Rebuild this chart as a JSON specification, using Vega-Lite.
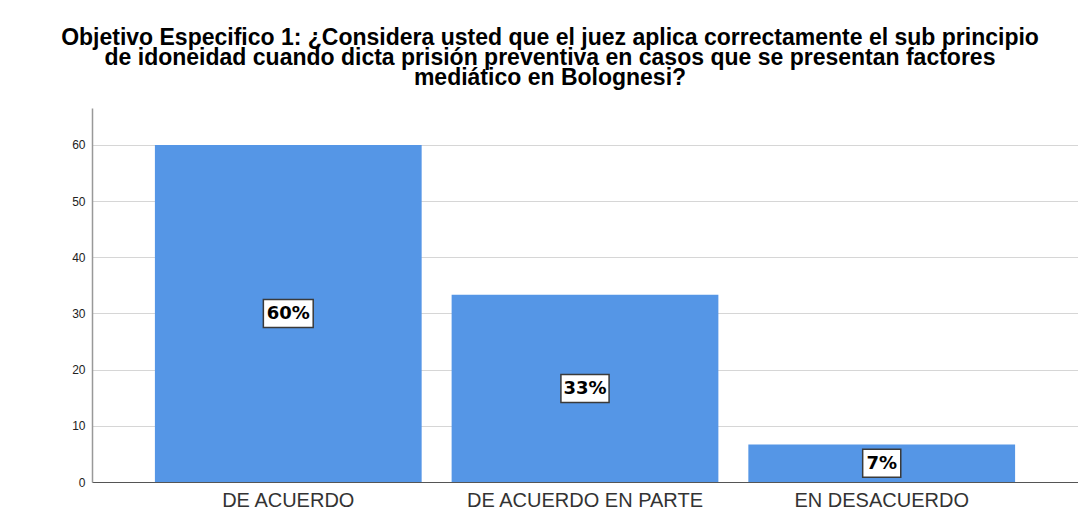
{
  "$schema": "https://vega.github.io/schema/vega-lite/v6.json",
  "autosize": {"type": "none"},
  "width": 986,
  "height": 374,
  "padding": {"left": 92, "top": 108, "right": 0, "bottom": 27},
  "background": "white",
  "title": {
    "text": ["Objetivo Especifico 1: ¿Considera usted que el juez aplica correctamente el sub principio", "de idoneidad cuando dicta prisión preventiva en casos que se presentan factores", "mediático en Bolognesi?"],
    "font": "Liberation Sans",
    "fontSize": 23,
    "fontWeight": "bold",
    "lineHeight": 20,
    "color": "black",
    "anchor": "middle",
    "dx": -35,
    "offset": 18,
    "limit": 1100
  },
  "config": {"view": {"stroke": null}},
  "data": {"values": [
    {"cat": "DE ACUERDO", "value": 60, "label": "60%"},
    {"cat": "DE ACUERDO EN PARTE", "value": 33.33, "label": "33%"},
    {"cat": "EN DESACUERDO", "value": 6.67, "label": "7%"}
  ]},
  "encoding": {
    "x": {
      "field": "cat", "type": "nominal", "sort": null,
      "scale": {"paddingInner": 0.101, "paddingOuter": 0.212},
      "axis": {
        "title": null, "labelAngle": 0, "ticks": false, "labelPadding": 8, "labelLimit": 400,
        "labelFont": "Liberation Sans", "labelFontSize": 20, "labelColor": "#333333",
        "domainColor": "#555555", "domainWidth": 1.2, "grid": false
      }
    }
  },
  "layer": [
    {
      "mark": {"type": "bar", "color": "#5596e6"},
      "encoding": {
        "y": {
          "field": "value", "type": "quantitative",
          "scale": {"domain": [0, 66.58], "nice": false, "zero": true},
          "axis": {
            "title": null, "values": [0, 10, 20, 30, 40, 50, 60], "ticks": false,
            "labelPadding": 7, "labelFont": "Liberation Sans", "labelFontSize": 12,
            "labelColor": "#222222", "domainColor": "#999999", "domainWidth": 1.5,
            "grid": true, "gridColor": "#d6d6d6", "gridWidth": 1.2
          }
        }
      }
    },
    {
      "encoding": {
        "y": {
          "field": "value", "type": "quantitative",
          "scale": {"domain": [0, 133.16], "nice": false, "zero": true},
          "axis": null
        }
      },
      "layer": [
        {
          "mark": {"type": "point", "filled": true, "fill": "white", "stroke": "#3a3a3a", "strokeWidth": 1.5, "opacity": 1, "size": 3136},
          "encoding": {
            "shape": {
              "field": "label", "type": "nominal", "legend": null,
              "scale": {"domain": ["60%", "33%", "7%"], "range": ["M-0.89,-0.5H0.89V0.5H-0.89Z", "M-0.86,-0.5H0.86V0.5H-0.86Z", "M-0.68,-0.5H0.68V0.5H-0.68Z"]}
            }
          }
        },
        {
          "mark": {"type": "text", "font": "DejaVu Sans", "fontWeight": "bold", "fontSize": 18, "color": "black", "baseline": "middle", "align": "center", "dy": 1},
          "encoding": {"text": {"field": "label"}}
        }
      ]
    }
  ],
  "resolve": {"scale": {"y": "independent"}}
}
